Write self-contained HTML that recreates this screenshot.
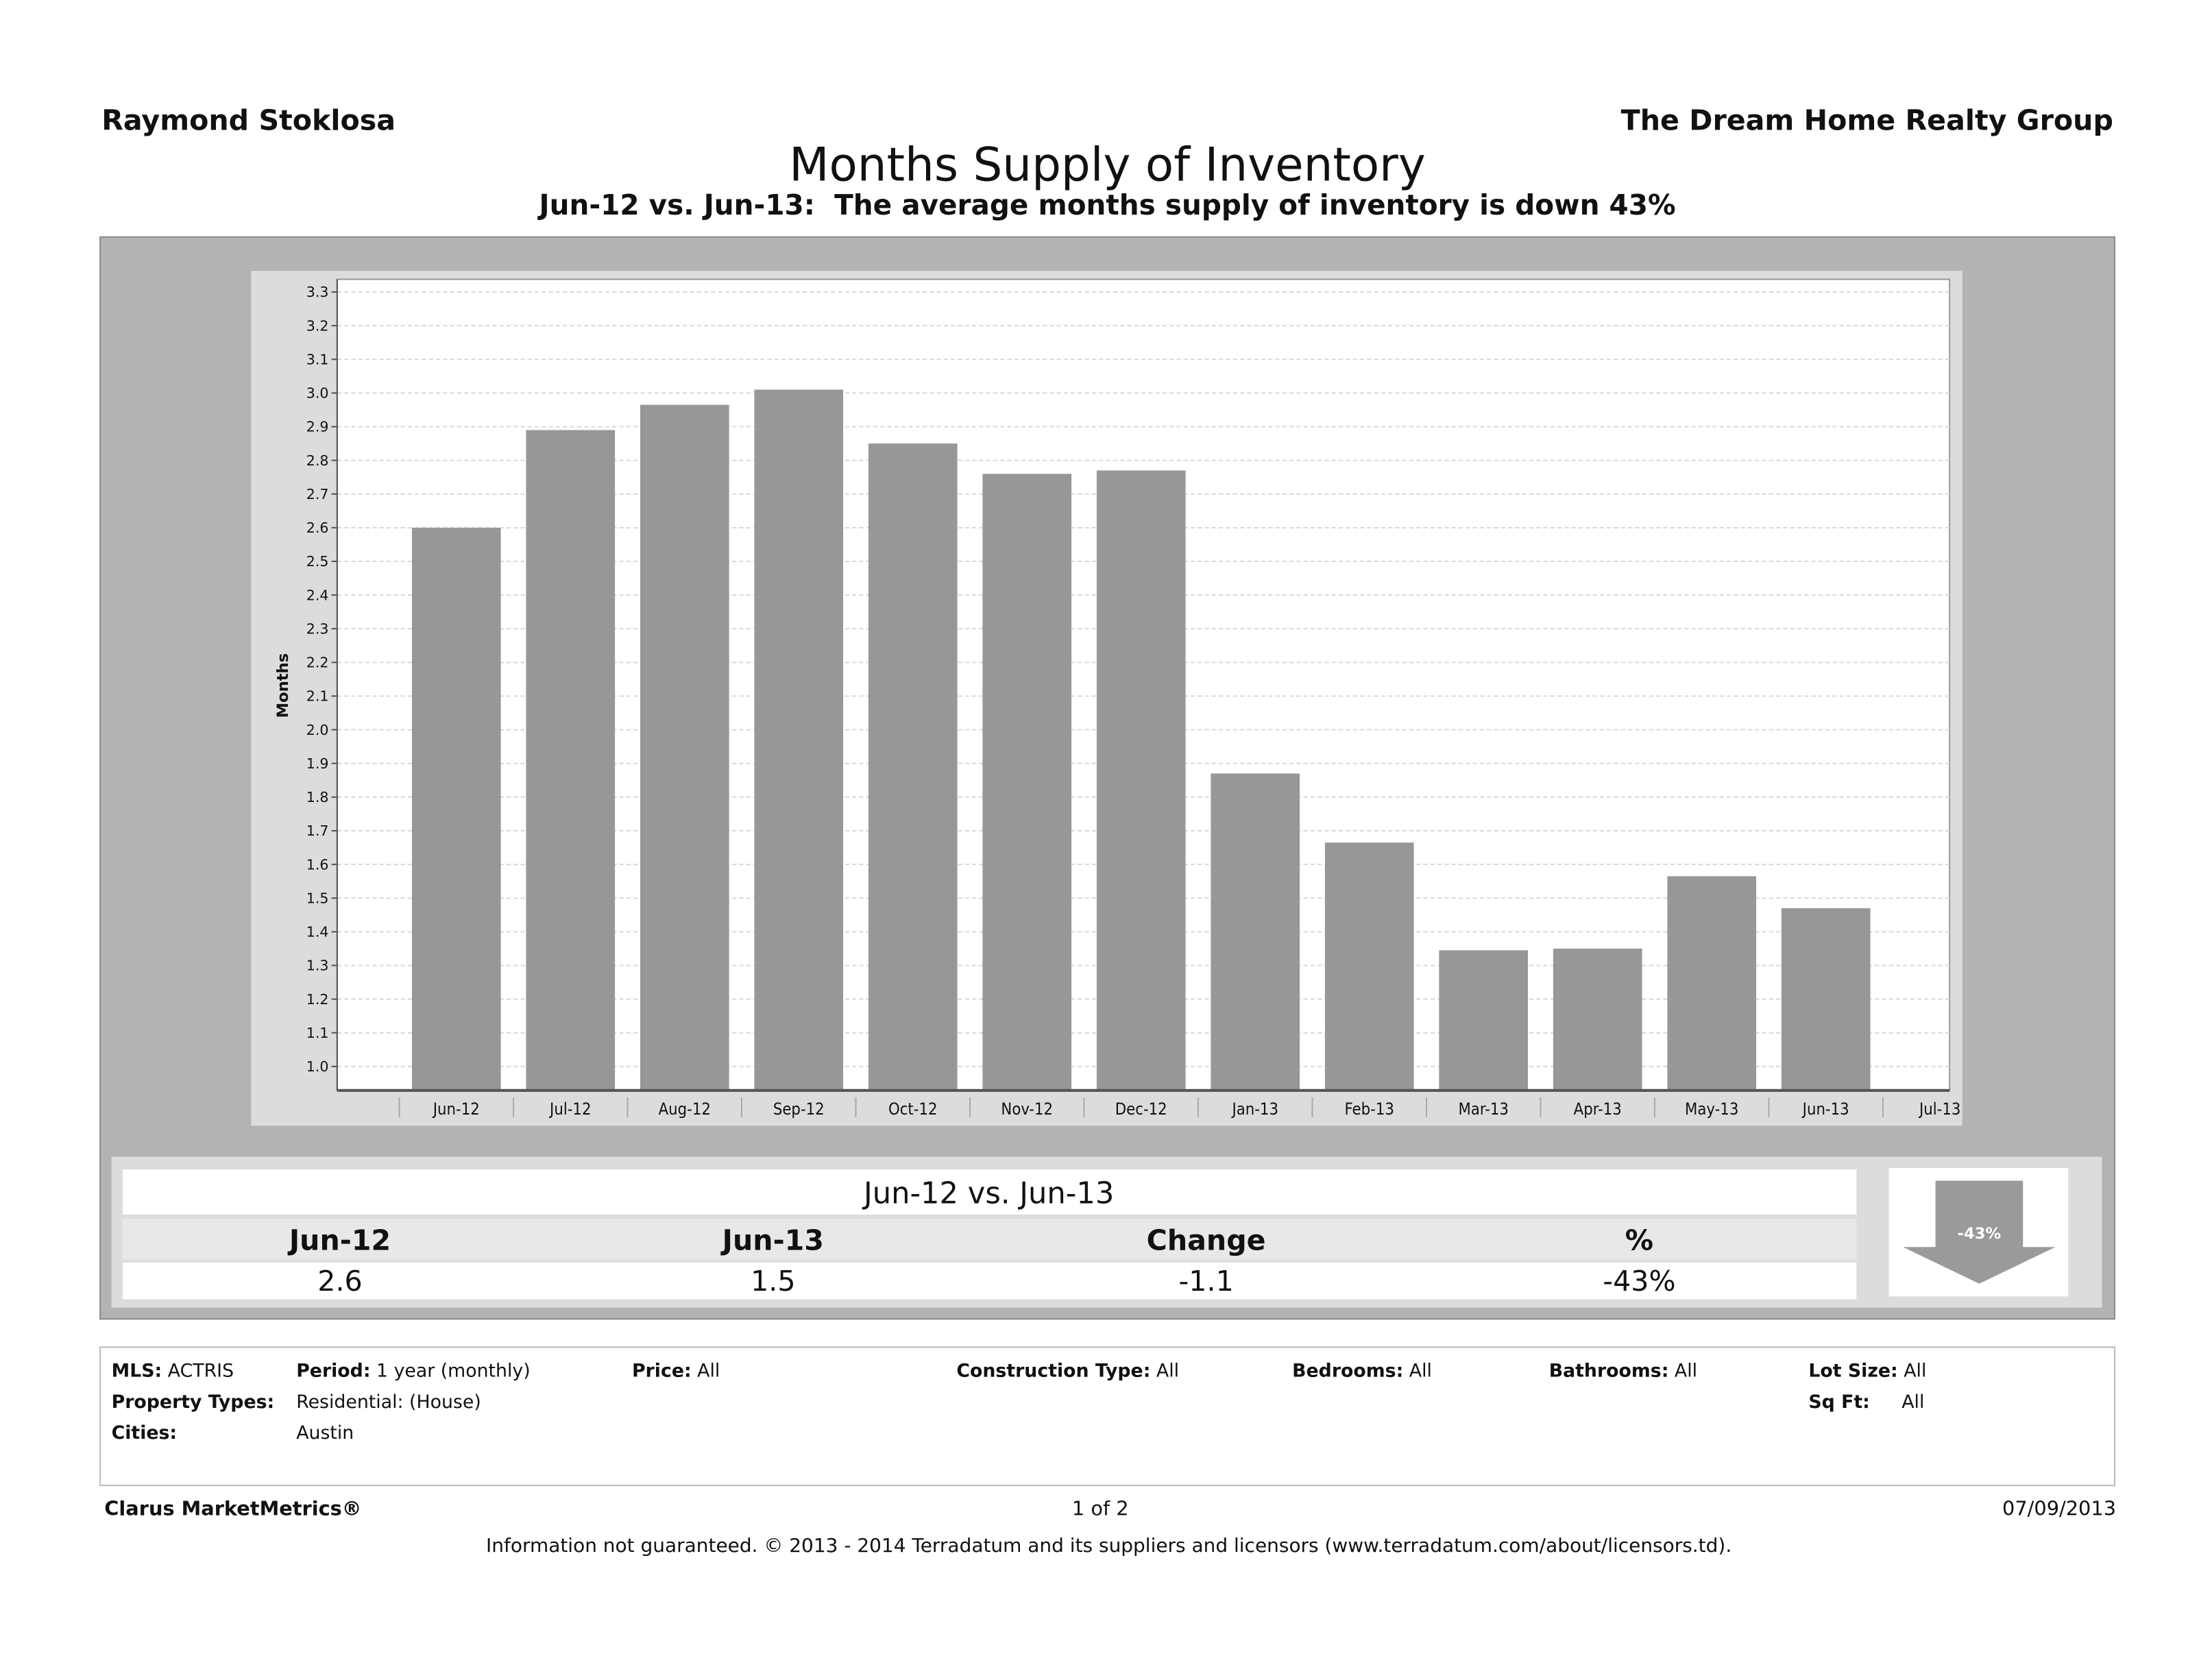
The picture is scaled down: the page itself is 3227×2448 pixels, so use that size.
<!DOCTYPE html>
<html><head><meta charset="utf-8"><style>
html,body{margin:0;padding:0;background:#fff;}
svg{display:block;font-family:"DejaVu Sans","Liberation Sans",sans-serif;}
</style></head><body>
<svg id="page" width="3227" height="2448" viewBox="0 0 1568 1189.5" xmlns="http://www.w3.org/2000/svg">
<rect width="1568" height="1189.5" fill="#fff"/>
<text x="72" y="92" font-size="20" font-weight="bold" fill="#111">Raymond Stoklosa</text>
<text x="1498" y="92" font-size="20" font-weight="bold" fill="#111" text-anchor="end">The Dream Home Realty Group</text>
<text x="785" y="128" font-size="32.8" fill="#111" text-anchor="middle">Months Supply of Inventory</text>
<text x="785" y="152" font-size="19.7" font-weight="bold" fill="#111" text-anchor="middle" xml:space="preserve">Jun-12 vs. Jun-13:  The average months supply of inventory is down 43%</text>

<rect x="71" y="168" width="1428" height="767" fill="#b3b3b3" stroke="#8a8a8a" stroke-width="1"/>
<rect x="178" y="192" width="1213" height="606" fill="#dcdcdc"/>
<rect x="239" y="198" width="1143" height="575" fill="#fff" stroke="#999" stroke-width="1"/>
<g id="grid"></g>
<g id="bars"></g>
<g id="yaxis"></g>
<g id="xaxis"></g>
<text transform="translate(204,486) rotate(-90)" font-size="11" font-weight="bold" text-anchor="middle" fill="#111">Months</text>

<rect x="79" y="820" width="1411" height="107" fill="#dcdcdc"/>
<rect x="87" y="829" width="1229" height="32" fill="#fff"/>
<text x="701" y="853" font-size="21" text-anchor="middle" fill="#111">Jun-12 vs. Jun-13</text>
<rect x="87" y="864" width="1229" height="29" fill="#e8e8e8"/>
<rect x="87" y="895" width="1229" height="26" fill="#fff"/>
<g font-size="20" text-anchor="middle" fill="#111">
<text x="241" y="886" font-weight="bold">Jun-12</text>
<text x="548" y="886" font-weight="bold">Jun-13</text>
<text x="855" y="886" font-weight="bold">Change</text>
<text x="1162" y="886" font-weight="bold">%</text>
<text x="241" y="915">2.6</text>
<text x="548" y="915">1.5</text>
<text x="855" y="915">-1.1</text>
<text x="1162" y="915">-43%</text>
</g>
<rect x="1339" y="828" width="127" height="91" fill="#fff"/>
<polygon points="1372,837 1434,837 1434,884 1457,884 1403,910 1349,884 1372,884" fill="#9a9a9a"/>
<text x="1403" y="878" font-size="11" font-weight="bold" fill="#fff" text-anchor="middle">-43%</text>

<rect x="71" y="955" width="1428" height="98" fill="#fff" stroke="#bbb" stroke-width="1"/>
<g font-size="13" fill="#111">
<text x="79" y="976"><tspan font-weight="bold">MLS:</tspan>  ACTRIS</text>
<text x="210" y="976"><tspan font-weight="bold">Period:</tspan>  1 year (monthly)</text>
<text x="448" y="976"><tspan font-weight="bold">Price:</tspan>  All</text>
<text x="678" y="976"><tspan font-weight="bold">Construction Type:</tspan> All</text>
<text x="916" y="976"><tspan font-weight="bold">Bedrooms:</tspan>  All</text>
<text x="1098" y="976"><tspan font-weight="bold">Bathrooms:</tspan> All</text>
<text x="1282" y="976"><tspan font-weight="bold">Lot Size:</tspan>  All</text>
<text x="79" y="998" font-weight="bold">Property Types:</text>
<text x="210" y="998">Residential: (House)</text>
<text x="1282" y="998" font-weight="bold">Sq Ft:</text>
<text x="1348" y="998">All</text>
<text x="79" y="1020" font-weight="bold">Cities:</text>
<text x="210" y="1020">Austin</text>
</g>
<text x="74" y="1074" font-size="14" font-weight="bold" fill="#111">Clarus MarketMetrics®</text>
<text x="780" y="1074" font-size="14" fill="#111" text-anchor="middle">1 of 2</text>
<text x="1500" y="1074" font-size="14" fill="#111" text-anchor="end">07/09/2013</text>
<text x="786" y="1100" font-size="13.6" fill="#111" text-anchor="middle">Information not guaranteed.  © 2013 - 2014 Terradatum and its suppliers and licensors (www.terradatum.com/about/licensors.td).</text>
</svg>
<script>
const categories = ["Jun-12","Jul-12","Aug-12","Sep-12","Oct-12","Nov-12","Dec-12","Jan-13","Feb-13","Mar-13","Apr-13","May-13","Jun-13"];
const axisCategories = ["Jun-12","Jul-12","Aug-12","Sep-12","Oct-12","Nov-12","Dec-12","Jan-13","Feb-13","Mar-13","Apr-13","May-13","Jun-13","Jul-13"];
const monthsSupply = [2.6, 2.89, 2.965, 3.01, 2.85, 2.76, 2.77, 1.87, 1.665, 1.345, 1.35, 1.565, 1.47];
const yTicks = [1.0,1.1,1.2,1.3,1.4,1.5,1.6,1.7,1.8,1.9,2.0,2.1,2.2,2.3,2.4,2.5,2.6,2.7,2.8,2.9,3.0,3.1,3.2,3.3];

const NS = "http://www.w3.org/2000/svg";
const plotL = 239, plotR = 1382, plotB = 773;
function yScale(v){ return 756 - (v - 1.0) * 238.7; }
function xCenter(i){ return 323.5 + 80.9 * i; }
const barW = 63;
function mk(tag, attrs, parent){ const e = document.createElementNS(NS, tag); for (const k in attrs) e.setAttribute(k, attrs[k]); parent.appendChild(e); return e; }

const grid = document.getElementById('grid'), yaxis = document.getElementById('yaxis');
yTicks.forEach(t => {
  const y = yScale(t);
  const gl = mk('line', {x1: plotL, x2: plotR, y1: y, y2: y, stroke: '#d8d8d8', 'stroke-dasharray': '3,2', 'stroke-width': 1}, grid);
  
  
  const tk = mk('line', {x1: plotL - 4, x2: plotL, y1: y, y2: y, stroke: '#555', 'stroke-width': 1}, yaxis);
  
  
  const lb = mk('text', {x: plotL - 6, y: y + 3.5, 'font-size': 10, 'text-anchor': 'end', fill: '#111'}, yaxis);
  
  
  lb.textContent = t.toFixed(1);
});
const axl = mk('line', {x1: plotL, x2: plotL, y1: 198, y2: plotB, stroke: '#555', 'stroke-width': 1}, yaxis);



const bars = document.getElementById('bars');
monthsSupply.forEach((v, i) => {
  const y = yScale(v);
  const r = mk('rect', {x: xCenter(i) - barW / 2, y: y, width: barW, height: plotB - y, fill: '#979797'}, bars);
  
  
});

const xaxis = document.getElementById('xaxis');
const xl = mk('line', {x1: plotL, x2: plotR, y1: plotB, y2: plotB, stroke: '#555', 'stroke-width': 2}, xaxis);


axisCategories.forEach((c, i) => {
  const x = xCenter(i);
  const sep = mk('line', {x1: x - 40.45, x2: x - 40.45, y1: 778, y2: 792, stroke: '#aaa', 'stroke-width': 1}, xaxis);
  
  
  const t = mk('text', {x: x, y: 790, 'font-size': 11.5, 'text-anchor': 'middle', fill: '#111', 'font-family': '"DejaVu Sans Condensed","Liberation Sans Narrow",sans-serif'}, xaxis);
  
  
  t.textContent = c;
});
</script>
</body></html>
